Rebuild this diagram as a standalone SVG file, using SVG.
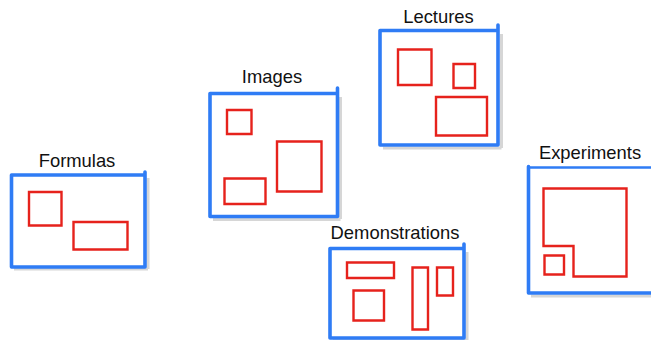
<svg xmlns="http://www.w3.org/2000/svg" width="651" height="340" viewBox="0 0 651 340">
  <style>
    .frame { fill: none; stroke: #2f7cf5; stroke-width: 3.6; stroke-linecap: round; }
    .shade { fill: none; stroke: #b4b4b4; stroke-width: 3; stroke-opacity: 0.55; }
    .part { fill: none; stroke: #e6221c; stroke-width: 2.4; stroke-linejoin: miter; stroke-linecap: square; }
    .label { font-family: "Liberation Sans", Arial, sans-serif; font-size: 18.4px; fill: #111; text-anchor: middle; }
  </style>
  <rect width="651" height="340" fill="#ffffff"/>

  <g id="formulas">
    <path class="shade" d="M148 178 V269 M14 269 H148"/>
    <path class="frame" d="M11.5 175 H145 M11.5 175 V267 M145 172 V267 M11.5 267 H145"/>
    <path class="part" d="M29 192 H61.5 V225.5 H29 Z"/>
    <path class="part" d="M73.5 222 H127.5 V249.5 H73.5 Z"/>
    <text class="label" x="77" y="167">Formulas</text>
  </g>

  <g id="images">
    <path class="shade" d="M340.5 97 V219 M213 219.5 H340.5"/>
    <path class="frame" d="M210 93.5 H337.5 M210 93.5 V216.5 M337.5 88 V216.5 M210 216.5 H337.5"/>
    <path class="part" d="M227 110 H251.5 V134 H227 Z"/>
    <path class="part" d="M277 141.5 H321.5 V191.5 H277 Z"/>
    <path class="part" d="M224.5 178.5 H265.5 V204 H224.5 Z"/>
    <text class="label" x="272" y="83">Images</text>
  </g>

  <g id="lectures">
    <path class="shade" d="M501.5 34 V148 M383 148 H501.5"/>
    <path class="frame" d="M380 30.5 H498 M380 30.5 V145 M498 25 V145 M380 145 H498"/>
    <path class="part" d="M398 49.5 H431.5 V85 H398 Z"/>
    <path class="part" d="M453.5 64 H475 V88 H453.5 Z"/>
    <path class="part" d="M436 97 H487 V135.5 H436 Z"/>
    <text class="label" x="438.5" y="23">Lectures</text>
  </g>

  <g id="demonstrations">
    <path class="shade" d="M467 252 V341 M333 340.5 H467"/>
    <path class="frame" d="M330 248.5 H464 M330 248.5 V338 M464 244 V338 M330 338 H464"/>
    <path class="part" d="M347 262.5 H394 V278 H347 Z"/>
    <path class="part" d="M353.5 290.5 H384 V320.5 H353.5 Z"/>
    <path class="part" d="M412.5 267.5 H428 V329.5 H412.5 Z"/>
    <path class="part" d="M437 267.5 H453 V295.5 H437 Z"/>
    <text class="label" x="395" y="238.5">Demonstrations</text>
  </g>

  <g id="experiments">
    <path class="shade" d="M531 296 H651"/>
    <path class="frame" d="M528.5 166.5 V293 M528.5 293 H651"/>
    <path class="frame" d="M528.5 167.5 H651" style="stroke-width:2.4"/>
    <path class="part" d="M543.5 188.5 H626.5 V276.5 H573.5 V246 H543.5 Z"/>
    <path class="part" d="M544.5 255.5 H564 V274.5 H544.5 Z"/>
    <text class="label" x="590" y="158.5">Experiments</text>
  </g>

  <g id="connectors"></g>
</svg>
